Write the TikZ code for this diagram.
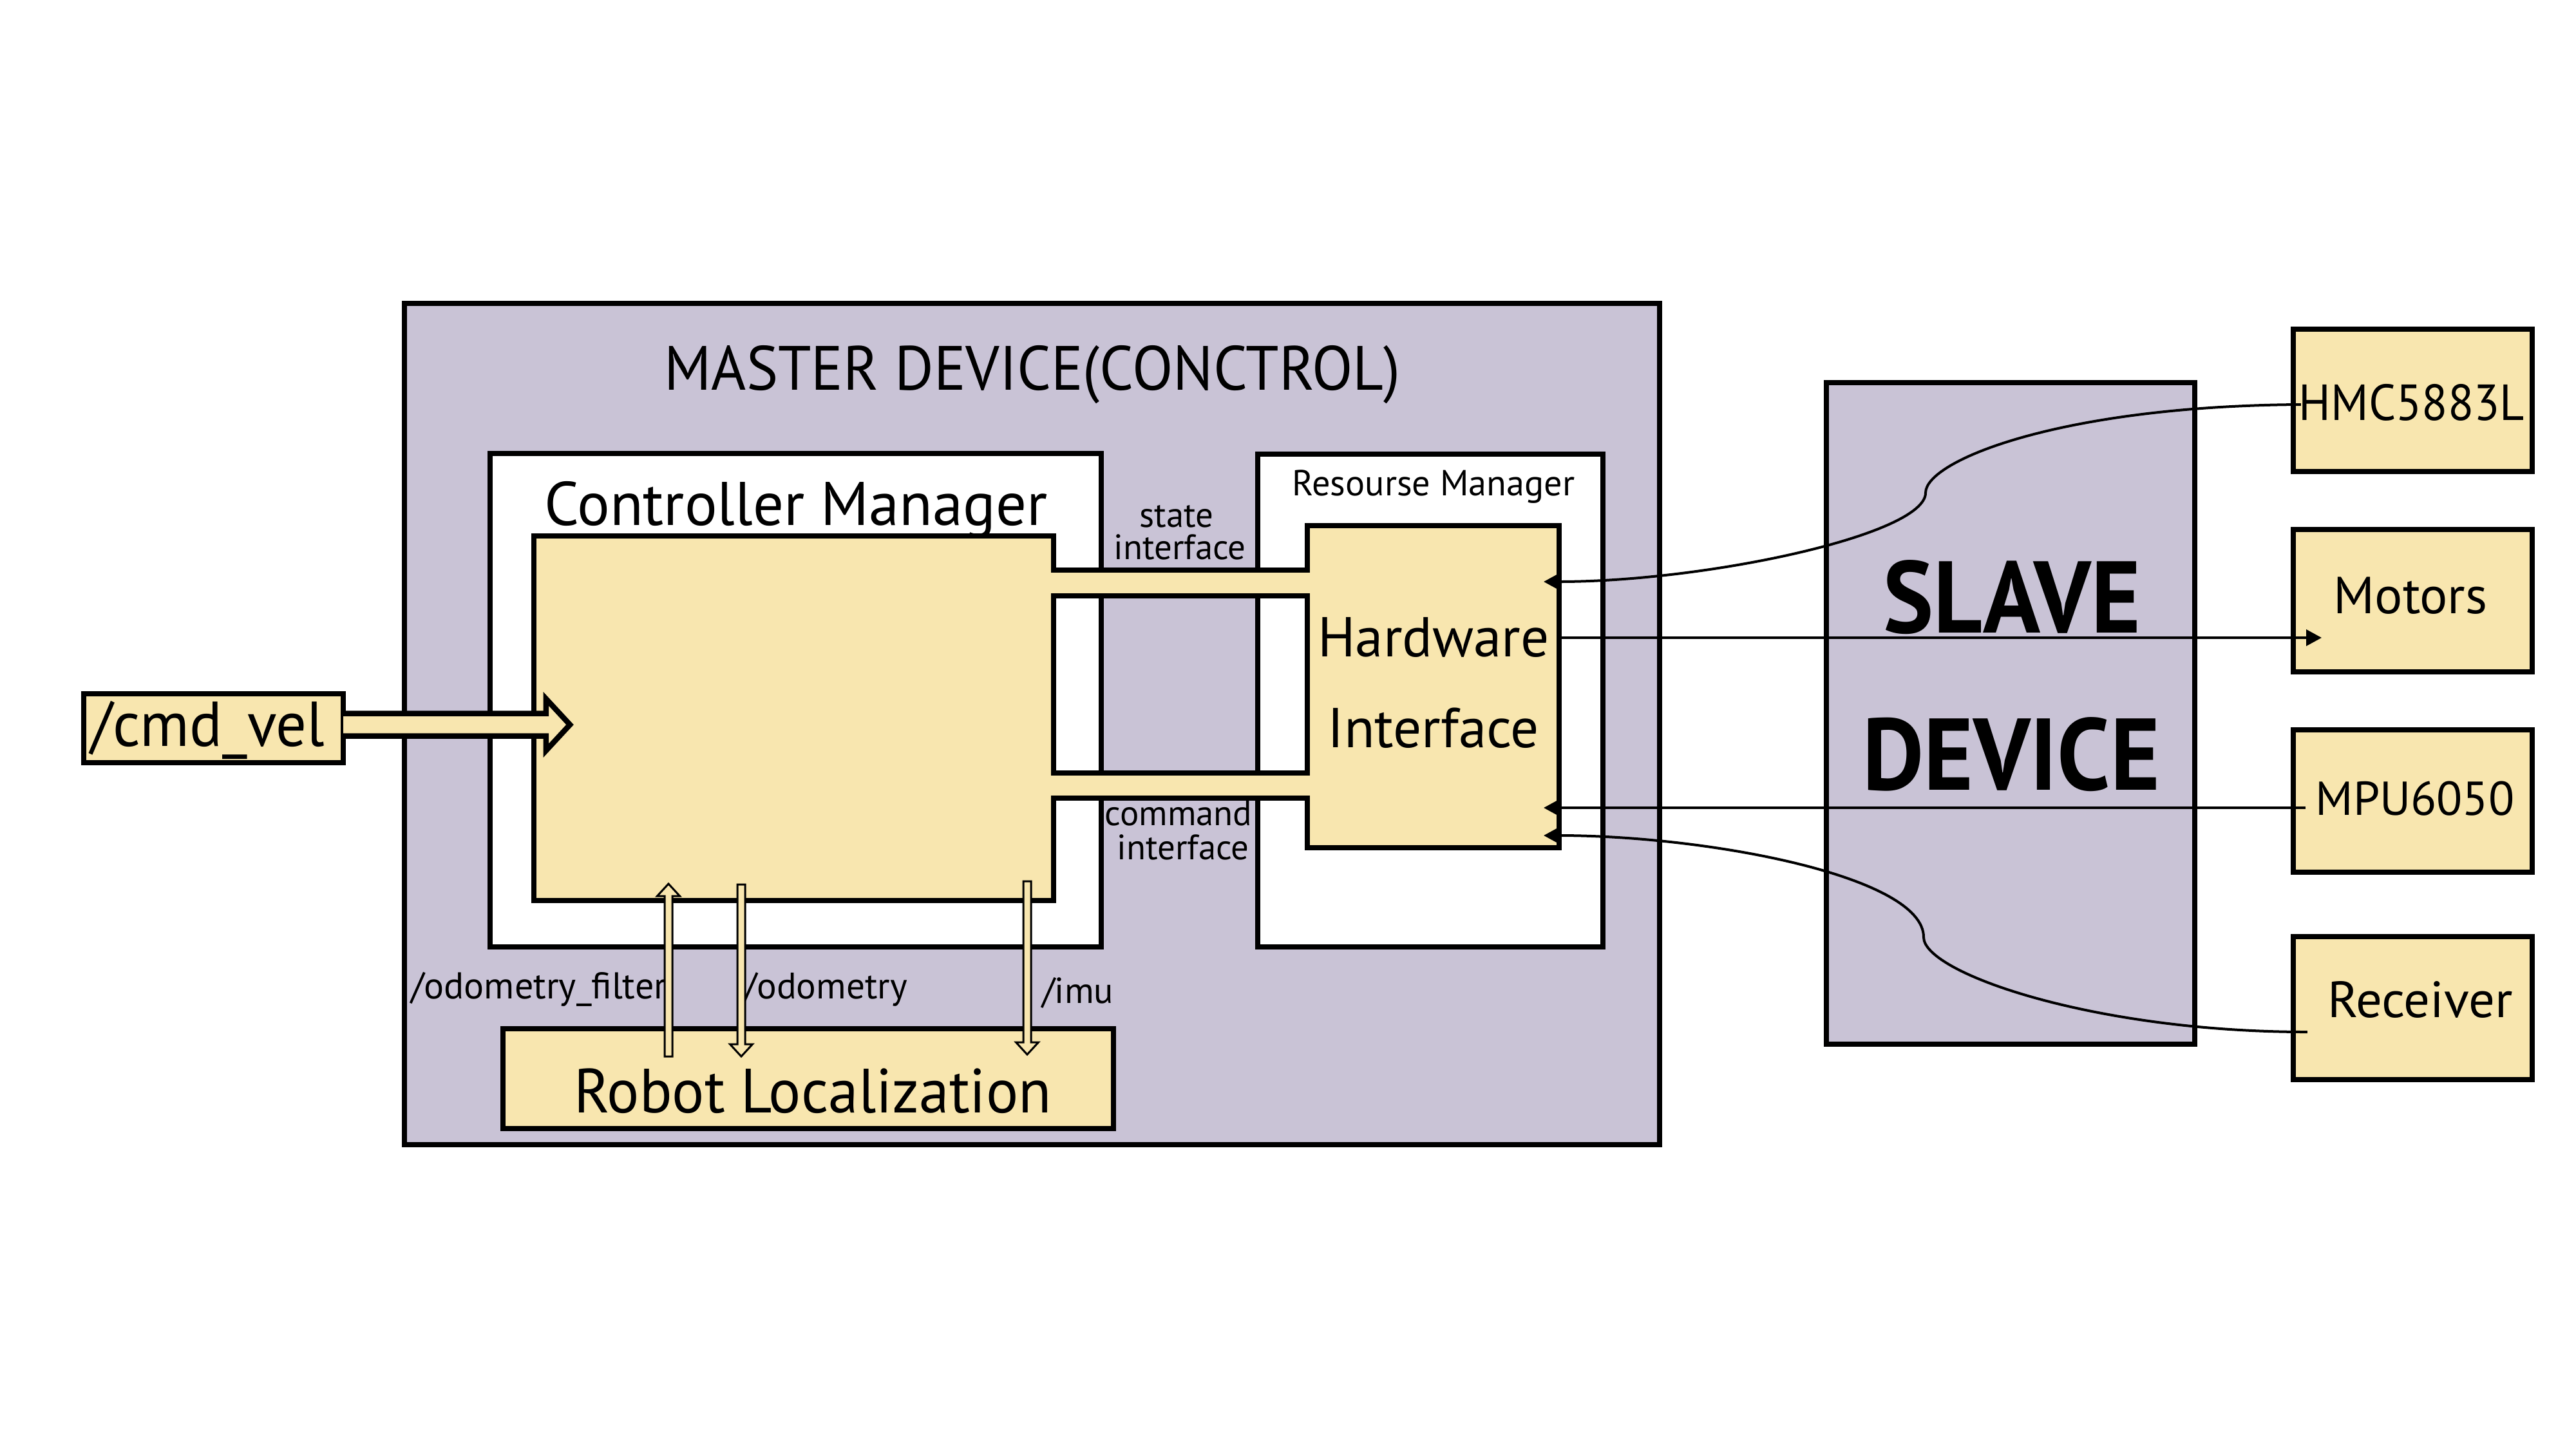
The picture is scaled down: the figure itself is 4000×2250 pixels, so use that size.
\documentclass[tikz,border=0pt]{standalone}
\usepackage{fontspec}
\usepackage{graphicx}
\setmainfont{PT Sans}
\usetikzlibrary{arrows.meta,calc}
\definecolor{lav}{HTML}{C9C3D6}
\definecolor{yel}{HTML}{F8E6AF}
\newcommand\fs[1]{\fontsize{#1}{#1}\selectfont}
\newcommand\hsq[2]{\scalebox{#1}[1]{#2}}
\newcommand\hollowup[2]{%
  \draw[hol] let \p1=(#1), \p2=(#2) in
   (\x1-0.06cm,\y1) -- (\x1-0.06cm,\y2-0.19cm) -- (\x1-0.175cm,\y2-0.19cm) -- (\x1,\y2)
   -- (\x1+0.175cm,\y2-0.19cm) -- (\x1+0.06cm,\y2-0.19cm) -- (\x1+0.06cm,\y1) -- cycle;}
\newcommand\hollowdown[2]{%
  \draw[hol] let \p1=(#1), \p2=(#2) in
   (\x1-0.06cm,\y1) -- (\x1-0.06cm,\y2+0.19cm) -- (\x1-0.175cm,\y2+0.19cm) -- (\x1,\y2)
   -- (\x1+0.175cm,\y2+0.19cm) -- (\x1+0.06cm,\y2+0.19cm) -- (\x1+0.06cm,\y1) -- cycle;}
\begin{document}
\begin{tikzpicture}[x=0.01cm,y=-0.01cm,
  box/.style={draw=black,line width=0.08cm,inner sep=0pt,outer sep=0pt,rectangle},
  ghost/.style={inner sep=0pt,outer sep=0pt,rectangle},
  lbl/.style={inner sep=0pt,outer sep=0pt,anchor=base},
  lblw/.style={inner sep=0pt,outer sep=0pt,anchor=base west},
  conn/.style={line width=0.04cm,-{Triangle[length=0.24cm,width=0.25cm]}},
  hol/.style={fill=yel,draw=black,line width=0.03cm,line join=miter},
  fat/.style={fill=yel,draw=black,line width=0.085cm,line join=miter},
  yelpoly/.style={fill=yel,draw=black,line width=0.075cm,even odd rule,line join=miter},
]
\fill[white] (0,0) rectangle (4000,2250);
\useasboundingbox (0,0) rectangle (4000,2250);

% master device
\node[box,fill=lav,minimum width=19.47cm,minimum height=13.06cm] (master) at (1602.5,1124) {};
\node[box,fill=white,minimum width=9.49cm,minimum height=7.66cm] (cm) at (1235.5,1087) {};
\node[box,fill=white,minimum width=5.36cm,minimum height=7.65cm] (rm) at (2221,1087.5) {};

% yellow controller + hardware interface
\draw[yelpoly] (829,832) -- (1636,832) -- (1636,885) -- (2030,885) -- (2030,816)
  -- (2421,816) -- (2421,1316) -- (2030,1316) -- (2030,1239) -- (1636,1239)
  -- (1636,1398) -- (829,1398) -- cycle
  (1636,925) rectangle (2030,1200);
\node[ghost,minimum width=8.07cm,minimum height=5.66cm] (cy) at (1232.5,1115) {};
\node[ghost,minimum width=3.91cm,minimum height=5cm] (hw) at (2225.5,1066) {};

% robot localization
\node[box,fill=yel,minimum width=9.48cm,minimum height=1.55cm] (rl) at (1255,1674.5) {};

% cmd_vel
\node[box,fill=yel,minimum width=4.03cm,minimum height=1.07cm] (cmd) at (331.5,1130.5) {};
\coordinate (cmdtip) at (885,1125);
\draw[fat] let \p1=(cmd.east), \p2=(cmdtip) in
  (\x1,\y2+0.175cm) -- (\x2-0.37cm,\y2+0.175cm) -- (\x2-0.37cm,\y2+0.4cm) -- (\x2,\y2)
  -- (\x2-0.37cm,\y2-0.4cm) -- (\x2-0.37cm,\y2-0.175cm) -- (\x1,\y2-0.175cm);

% slave device and peripherals
\node[box,fill=lav,minimum width=5.72cm,minimum height=10.27cm] (slave) at (3122,1107.5) {};
\node[box,fill=yel,minimum width=3.71cm,minimum height=2.21cm] (hmc) at (3746.5,621.5) {};
\node[box,fill=yel,minimum width=3.71cm,minimum height=2.21cm] (mot) at (3746.5,932.5) {};
\node[box,fill=yel,minimum width=3.71cm,minimum height=2.21cm] (mpu) at (3746.5,1243.5) {};
\node[box,fill=yel,minimum width=3.71cm,minimum height=2.22cm] (rec) at (3746.5,1565) {};

% labels
\node[lbl,font=\fs{27.6}] (tmaster) at (1603,605) {\hsq{0.955}{MASTER DEVICE(CONCTROL)}};
\node[lbl,font=\fs{27.2}] (tcm) at (1236,815) {\hsq{0.99}{Controller Manager}};
\node[lbl,font=\fs{16}] (trm) at (2226,769) {Resourse Manager};
\node[lbl,font=\fs{24.8}] (thw1) at (2226,1019) {Hardware};
\node[lbl,font=\fs{24.8}] (thw2) at (2226,1160) {Interface};
\node[lbl,font=\fs{15.6},text depth=0pt] (tst1) at (1827,818) {state};
\node[lbl,font=\fs{15.6}] (tst2) at (1832,868) {interface};
\node[lbl,font=\fs{15.6},text depth=0pt] (tcmd1) at (1830,1281) {command};
\node[lbl,font=\fs{15.6}] (tcmd2) at (1837,1334) {interface};
\node[lbl,font=\fs{28}] (tcv) at (323,1158) {\hsq{0.96}{/cmd\_vel}};
\node[lbl,font=\fs{27.6}] (trl) at (1262,1727) {\hsq{0.967}{Robot Localization}};
\node[lblw,font=\fs{16.5}] (tof) at (638,1550) {/odometry\_filter};
\node[lblw,font=\fs{16.3}] (tod) at (1155,1550) {/odometry};
\node[lblw,font=\fs{16}] (timu) at (1618,1557) {/imu};
\node[lbl,font=\fs{22.4}] (thmc) at (3745,652) {\hsq{0.94}{HMC5883L}};
\node[lbl,font=\fs{23}] (tmot) at (3743,952) {Motors};
\node[lbl,font=\fs{21}] (tmpu) at (3750,1265) {MPU6050};
\node[lbl,font=\fs{22.5}] (trec) at (3758,1579) {\hsq{1.02}{Receiver}};
\node[lbl,font=\fs{45}\bfseries] (tsl1) at (3124,982) {\hsq{0.93}{SLAVE}};
\node[lbl,font=\fs{45}\bfseries] (tsl2) at (3123,1226) {\hsq{0.93}{DEVICE}};

% hollow topic arrows
\coordinate (ofa) at (1038,1640); \coordinate (ofb) at (1038,1372);
\coordinate (oda) at (1151,1373); \coordinate (odb) at (1151,1640);
\coordinate (ima) at (1595,1368); \coordinate (imb) at (1595,1637);
\hollowup{ofa}{ofb}
\hollowdown{oda}{odb}
\hollowdown{ima}{imb}

% hardware connectors
\coordinate (hwin1) at (2397,903);
\coordinate (motin) at (3605,990);
\coordinate (hwin3) at (2397,1254);
\coordinate (hwin4) at (2397,1297);
\draw[conn] ($(hmc.west)+(12,6.5)$) .. controls (3200,630) and (2990,715) .. (2990,765)
  .. controls (2990,830) and (2650,903) .. (hwin1);
\draw[conn] (hw.east |- motin) -- (motin);
\draw[conn] ($(hwin3 -| mpu.west)+(19,0)$) -- (hwin3);
\draw[conn] ($(rec.west)+(22,37)$) .. controls (3250,1602) and (2987,1510) .. (2987,1455)
  .. controls (2987,1360) and (2650,1297) .. (hwin4);
\end{tikzpicture}
\end{document}
